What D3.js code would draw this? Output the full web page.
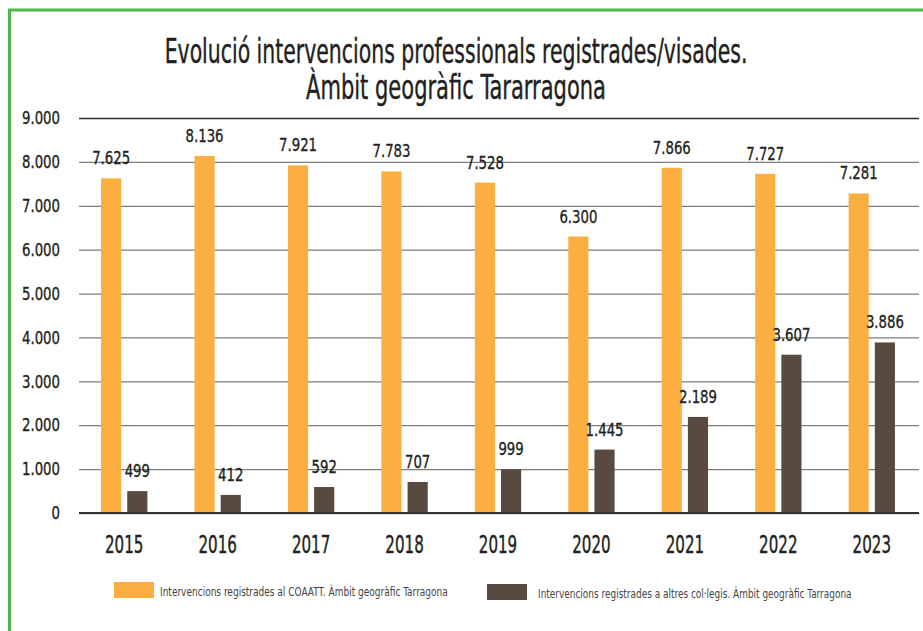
<!DOCTYPE html>
<html>
<head>
<meta charset="utf-8">
<script src="https://cdn.jsdelivr.net/npm/d3@7"></script>
<style>
  html, body { margin: 0; padding: 0; background: #fff; }
  svg { display: block; }
  text { font-family: "DejaVu Sans Condensed", "DejaVu Sans", sans-serif; }
</style>
</head>
<body>
<svg id="chart" width="923" height="631"></svg>
<script>
const titleLines = ["Evolució intervencions professionals registrades/visades.", "Àmbit geogràfic Tararragona"];
const years = ["2015", "2016", "2017", "2018", "2019", "2020", "2021", "2022", "2023"];
const seriesNames = ["Intervencions registrades al COAATT. Àmbit geogràfic Tarragona",
                     "Intervencions registrades a altres col·legis. Àmbit geogràfic Tarragona"];
const coaattValues = [7625, 8136, 7921, 7783, 7528, 6300, 7866, 7727, 7281];
const altresValues = [499, 412, 592, 707, 999, 1445, 2189, 3607, 3886];
const yTicks = [0, 1000, 2000, 3000, 4000, 5000, 6000, 7000, 8000, 9000];
const colors = ["#fbaf41", "#594a41"];

const svg = d3.select("#chart");
const locale = d3.formatLocale({decimal: ",", thousands: ".", grouping: [3], currency: ["", "€"]});
const fmt = locale.format(",d");

// horizontally squeeze a text about its anchor point
function squeeze(sel, sx) {
  sel.each(function() {
    const t = d3.select(this);
    const x = +t.attr("x") || 0, y = +t.attr("y") || 0;
    t.attr("x", 0).attr("y", 0).attr("transform", `translate(${x},${y}) scale(${sx},1)`);
  });
}
function fitWidth(sel, w) {
  sel.each(function() {
    const len = this.getComputedTextLength();
    squeeze(d3.select(this), w / len);
  });
}

// green frame
svg.append("rect").attr("x", 9.5).attr("y", 10).attr("width", 940).attr("height", 660)
  .attr("fill", "none").attr("stroke", "#4db849").attr("stroke-width", 3);

// title
const titleWidths = [583, 300];
titleLines.forEach((t, i) => {
  const tx = svg.append("text").attr("x", 456).attr("y", 63 + i * 36)
    .attr("text-anchor", "middle").attr("font-size", 33).attr("fill", "#231f20")
    .attr("stroke", "#231f20").attr("stroke-width", 0.4)
    .text(t);
  fitWidth(tx, titleWidths[i]);
});

const y = d3.scaleLinear().domain([0, 9000]).range([513, 118]);
const x = d3.scaleBand().domain(years).range([77.5, 918.5]);
const x1 = d3.scaleBand().domain([0, 1]).range([0, x.bandwidth()]).paddingInner(0.23).paddingOuter(0.9);

// gridlines via axis
const yAxis = svg.append("g").attr("transform", "translate(79,0)")
  .call(d3.axisLeft(y).tickValues(yTicks).tickSize(-(919 - 79)).tickFormat(fmt));
yAxis.select(".domain").remove();
yAxis.selectAll(".tick line")
  .attr("stroke", d => d === 9000 ? "#2a2a2a" : "#7d7d7d")
  .attr("stroke-width", 1.3);
yAxis.selectAll(".tick text").attr("x", -19).attr("font-size", 18).attr("fill", "#231f20")
  .attr("stroke", "#231f20").attr("stroke-width", 0.35)
  .attr("text-anchor", "end");
squeeze(yAxis.selectAll(".tick text"), 0.82);

const series = [coaattValues, altresValues];
series.forEach((vals, s) => {
  const g = svg.append("g");
  g.selectAll("rect").data(vals).join("rect")
    .attr("x", (d, i) => x(years[i]) + x1(s))
    .attr("width", x1.bandwidth())
    .attr("y", d => y(d))
    .attr("height", d => y(0) - y(d))
    .attr("fill", colors[s]);
  const labels = g.selectAll("text").data(vals).join("text")
    .attr("x", (d, i) => x(years[i]) + x1(s) + x1.bandwidth() / 2)
    .attr("y", d => y(d) - 14)
    .attr("text-anchor", "middle")
    .attr("font-size", 18).attr("fill", "#231f20")
    .attr("stroke", "#231f20").attr("stroke-width", 0.35)
    .text(d => fmt(d));
  squeeze(labels, 0.82);
});

// zero baseline
svg.append("line").attr("x1", 79).attr("x2", 919).attr("y1", y(0)).attr("y2", y(0))
  .attr("stroke", "#333").attr("stroke-width", 2.2);

// x axis labels
const xAxis = svg.append("g").attr("transform", `translate(0,${y(0)})`)
  .call(d3.axisBottom(x).tickSize(0).tickPadding(0));
xAxis.select(".domain").remove();
xAxis.selectAll(".tick text").attr("dy", null).attr("y", 40).attr("font-size", 24)
  .attr("fill", "#231f20").attr("stroke", "#231f20").attr("stroke-width", 0.4);
squeeze(xAxis.selectAll(".tick text"), 0.7);

// legend
const legendPos = [{sx: 114, sy: 582, tx: 160, ty: 596, tw: 288}, {sx: 487, sy: 584, tx: 538, ty: 598, tw: 314}];
seriesNames.forEach((name, i) => {
  const p = legendPos[i];
  svg.append("rect").attr("x", p.sx).attr("y", p.sy).attr("width", 40).attr("height", 16).attr("fill", colors[i]);
  const t = svg.append("text").attr("x", p.tx).attr("y", p.ty).attr("font-size", 13).attr("fill", "#444")
    .text(name);
  fitWidth(t, p.tw);
});
</script>
</body>
</html>
